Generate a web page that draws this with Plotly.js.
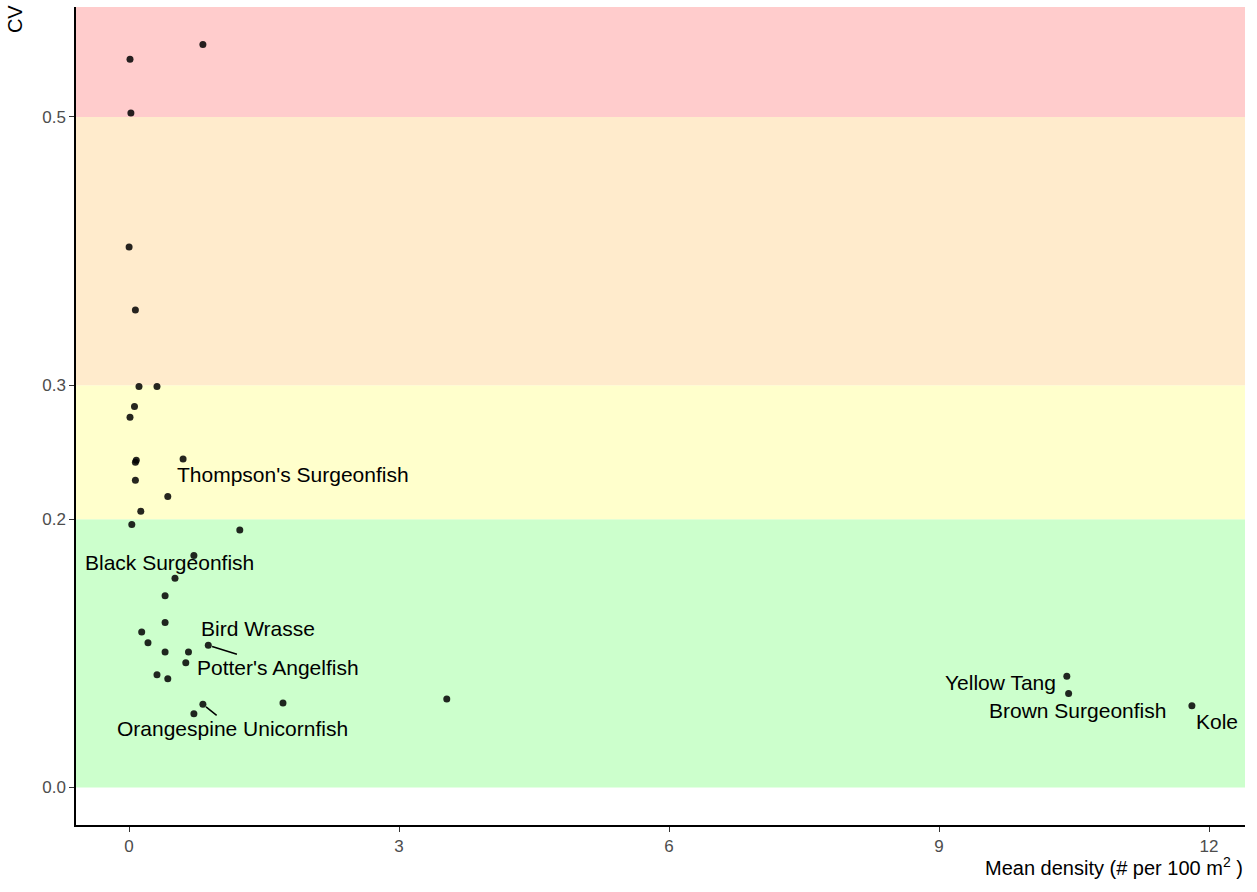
<!DOCTYPE html>
<html>
<head>
<meta charset="utf-8">
<script src="https://cdn.plot.ly/plotly-3.0.1.min.js"></script>
<style>html,body{margin:0;padding:0;background:#fff}#chart{width:1257px;height:892px}</style>
</head>
<body>
<div id="chart"></div>
<script>
// ── Data ──────────────────────────────────────────────────
const density = [0.01,0.82,0.02,0.00,0.07,0.11,0.31,0.06,0.01,0.08,0.07,0.60,0.07,0.43,0.13,0.03,1.23,
                 0.72,0.51,0.40,0.40,0.14,0.21,0.40,0.66,0.88,0.63,0.31,0.43,0.82,0.72,1.71,3.53,10.42,10.44,11.81];
const cv      = [0.543,0.554,0.503,0.403,0.356,0.299,0.299,0.284,0.276,0.244,0.2425,0.245,0.229,0.217,0.206,0.196,0.192,
                 0.173,0.156,0.143,0.123,0.116,0.108,0.101,0.101,0.106,0.093,0.084,0.081,0.062,0.055,0.063,0.066,0.083,0.070,0.061];

const labNames = ["Thompson's Surgeonfish","Black Surgeonfish","Bird Wrasse","Potter's Angelfish",
                  "Orangespine Unicornfish","Yellow Tang","Brown Surgeonfish","Kole"];
const labX     = [0.60,0.51,0.40,0.88,0.82,10.42,10.44,11.81];
const labY     = [0.245,0.156,0.123,0.106,0.062,0.083,0.070,0.061];
const labDx    = [110,-5,93,70,30,-66,9,25];
const labDy    = [16,-16,6,22,24,6,17,16];
const labLine  = [false,false,false,true,true,false,false,false];

const bands = [[0,0.2,'#ccffcc'],[0.2,0.3,'#ffffcc'],[0.3,0.5,'#ffebcc'],[0.5,0.6,'#ffcccc']];

// ── Chart ─────────────────────────────────────────────────
const font = 'Liberation Sans, Arial, sans-serif';

const shapes = bands.map(b => ({
  type:'rect', xref:'paper', yref:'y', x0:0, x1:1, y0:b[0], y1:b[1],
  fillcolor:b[2], line:{width:0}, layer:'below'
}));

const annotations = labNames.map((t,i) => ({
  x:labX[i], y:labY[i], text:t, showarrow:true, arrowhead:0, arrowwidth:1.5,
  arrowcolor: labLine[i] ? '#000' : 'rgba(0,0,0,0)',
  ax:labDx[i], ay:labDy[i], standoff:4,
  font:{family:font, size:21, color:'#000'}
}));
annotations.push(
  {xref:'paper', yref:'paper', x:1, y:-0.033, xanchor:'right', yanchor:'top', showarrow:false,
   text:'Mean density (# per 100 m<sup>2</sup> )', font:{family:font, size:20, color:'#000'}},
  {xref:'paper', yref:'paper', x:-0.052, y:1.005, xanchor:'center', yanchor:'top', showarrow:false,
   text:'CV', textangle:-90, font:{family:font, size:20, color:'#000'}}
);

Plotly.newPlot('chart', [{
  type:'scatter', mode:'markers', x:density, y:cv,
  marker:{color:'rgba(0,0,0,0.85)', size:7},
  hoverinfo:'x+y'
}], {
  width:1257, height:892,
  margin:{l:76, r:12, t:7, b:67},
  paper_bgcolor:'#fff', plot_bgcolor:'#fff',
  showlegend:false,
  xaxis:{range:[-0.59,12.4], tickvals:[0,3,6,9,12], showgrid:false, zeroline:false,
         showline:true, linecolor:'#000', linewidth:1.5, ticks:'outside', ticklen:5, tickcolor:'#333',
         tickfont:{family:font, size:17, color:'#4d4d4d'}},
  yaxis:{range:[-0.028,0.582], tickvals:[0,0.2,0.3,0.5], ticktext:['0.0','0.2','0.3','0.5'],
         showgrid:false, zeroline:false,
         showline:true, linecolor:'#000', linewidth:1.5, ticks:'outside', ticklen:5, tickcolor:'#333',
         tickfont:{family:font, size:17, color:'#4d4d4d'}},
  shapes, annotations
}, {displayModeBar:false});
</script>
</body>
</html>
